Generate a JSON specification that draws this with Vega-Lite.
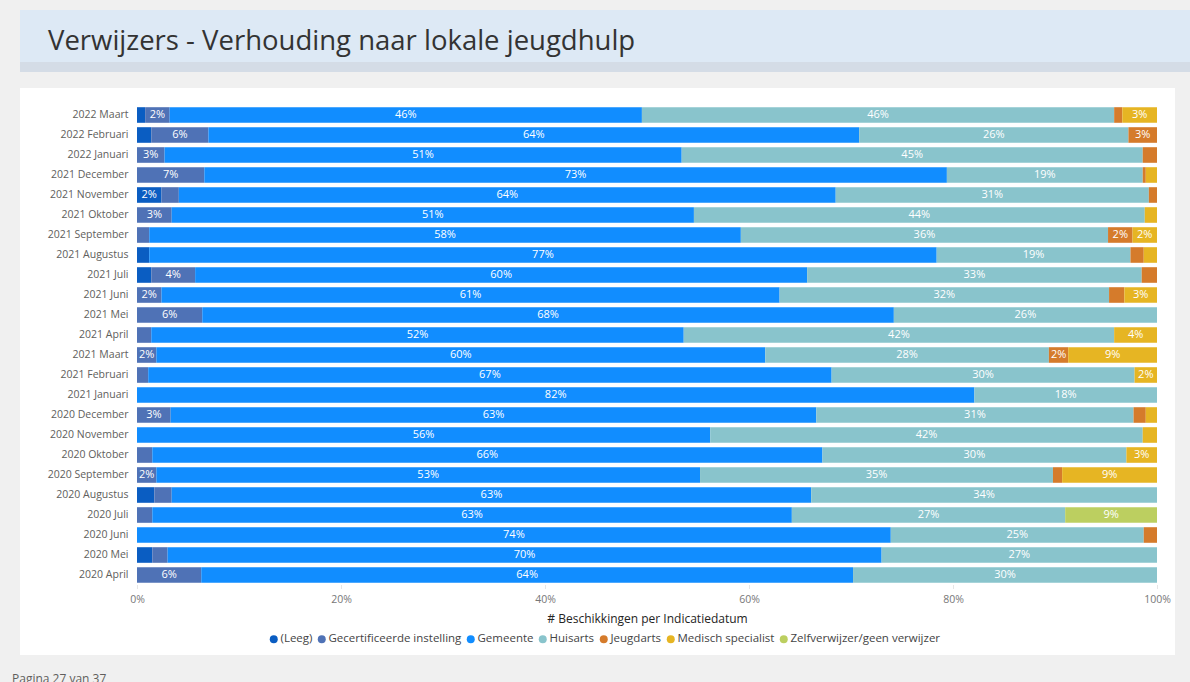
{
  "$schema": "https://vega.github.io/schema/vega-lite/v6.json",
  "padding": {"left": 12, "top": 10, "right": 0, "bottom": 0},
  "autosize": {"type": "pad"},
  "background": "#f0f0f0",
  "columns": 1,
  "spacing": 16,
  "config": {
    "font": "Segoe UI, Open Sans",
    "view": {"stroke": null}
  },
  "concat": [
    {
      "width": 1170,
      "height": 62,
      "view": {
        "stroke": null,
        "fill": {
          "gradient": "linear", "x1": 0, "y1": 0, "x2": 0, "y2": 1,
          "stops": [
            {"offset": 0, "color": "#dde9f5"},
            {"offset": 0.839, "color": "#dde9f5"},
            {"offset": 0.84, "color": "#d4dce6"},
            {"offset": 1, "color": "#d4dce6"}
          ]
        }
      },
      "data": {"values": [{}]},
      "mark": {"type": "text", "text": ""},
      "encoding": {},
      "title": {
        "text": "Verwijzers - Verhouding naar lokale jeugdhulp",
        "anchor": "start", "frame": "group", "orient": "top",
        "offset": -59, "dx": 28, "baseline": "middle",
        "fontSize": 27.5, "fontWeight": "normal", "color": "#333333", "font": "Segoe UI, Open Sans"
      }
    },
    {
      "width": 1155,
      "height": 567,
      "view": {"fill": "white", "stroke": null},
      "data": {
        "values": [
          {"maand": "2022 Maart", "verwijzer": "(Leeg)", "aandeel": 0.8},
          {"maand": "2022 Maart", "verwijzer": "Gecertificeerde instelling", "aandeel": 2.4},
          {"maand": "2022 Maart", "verwijzer": "Gemeente", "aandeel": 46.3},
          {"maand": "2022 Maart", "verwijzer": "Huisarts", "aandeel": 46.3},
          {"maand": "2022 Maart", "verwijzer": "Jeugdarts", "aandeel": 0.8},
          {"maand": "2022 Maart", "verwijzer": "Medisch specialist", "aandeel": 3.4},
          {"maand": "2022 Februari", "verwijzer": "(Leeg)", "aandeel": 1.4},
          {"maand": "2022 Februari", "verwijzer": "Gecertificeerde instelling", "aandeel": 5.6},
          {"maand": "2022 Februari", "verwijzer": "Gemeente", "aandeel": 63.8},
          {"maand": "2022 Februari", "verwijzer": "Huisarts", "aandeel": 26.4},
          {"maand": "2022 Februari", "verwijzer": "Jeugdarts", "aandeel": 2.8},
          {"maand": "2022 Januari", "verwijzer": "Gecertificeerde instelling", "aandeel": 2.7},
          {"maand": "2022 Januari", "verwijzer": "Gemeente", "aandeel": 50.7},
          {"maand": "2022 Januari", "verwijzer": "Huisarts", "aandeel": 45.2},
          {"maand": "2022 Januari", "verwijzer": "Jeugdarts", "aandeel": 1.4},
          {"maand": "2021 December", "verwijzer": "Gecertificeerde instelling", "aandeel": 6.6},
          {"maand": "2021 December", "verwijzer": "Gemeente", "aandeel": 72.8},
          {"maand": "2021 December", "verwijzer": "Huisarts", "aandeel": 19.2},
          {"maand": "2021 December", "verwijzer": "Jeugdarts", "aandeel": 0.3},
          {"maand": "2021 December", "verwijzer": "Medisch specialist", "aandeel": 1.1},
          {"maand": "2021 November", "verwijzer": "(Leeg)", "aandeel": 2.4},
          {"maand": "2021 November", "verwijzer": "Gecertificeerde instelling", "aandeel": 1.7},
          {"maand": "2021 November", "verwijzer": "Gemeente", "aandeel": 64.4},
          {"maand": "2021 November", "verwijzer": "Huisarts", "aandeel": 30.7},
          {"maand": "2021 November", "verwijzer": "Jeugdarts", "aandeel": 0.8},
          {"maand": "2021 Oktober", "verwijzer": "Gecertificeerde instelling", "aandeel": 3.4},
          {"maand": "2021 Oktober", "verwijzer": "Gemeente", "aandeel": 51.2},
          {"maand": "2021 Oktober", "verwijzer": "Huisarts", "aandeel": 44.2},
          {"maand": "2021 Oktober", "verwijzer": "Medisch specialist", "aandeel": 1.2},
          {"maand": "2021 September", "verwijzer": "Gecertificeerde instelling", "aandeel": 1.2},
          {"maand": "2021 September", "verwijzer": "Gemeente", "aandeel": 58.0},
          {"maand": "2021 September", "verwijzer": "Huisarts", "aandeel": 36.0},
          {"maand": "2021 September", "verwijzer": "Jeugdarts", "aandeel": 2.4},
          {"maand": "2021 September", "verwijzer": "Medisch specialist", "aandeel": 2.4},
          {"maand": "2021 Augustus", "verwijzer": "(Leeg)", "aandeel": 1.2},
          {"maand": "2021 Augustus", "verwijzer": "Gemeente", "aandeel": 77.2},
          {"maand": "2021 Augustus", "verwijzer": "Huisarts", "aandeel": 19.0},
          {"maand": "2021 Augustus", "verwijzer": "Jeugdarts", "aandeel": 1.3},
          {"maand": "2021 Augustus", "verwijzer": "Medisch specialist", "aandeel": 1.3},
          {"maand": "2021 Juli", "verwijzer": "(Leeg)", "aandeel": 1.4},
          {"maand": "2021 Juli", "verwijzer": "Gecertificeerde instelling", "aandeel": 4.3},
          {"maand": "2021 Juli", "verwijzer": "Gemeente", "aandeel": 60.0},
          {"maand": "2021 Juli", "verwijzer": "Huisarts", "aandeel": 32.8},
          {"maand": "2021 Juli", "verwijzer": "Jeugdarts", "aandeel": 1.5},
          {"maand": "2021 Juni", "verwijzer": "Gecertificeerde instelling", "aandeel": 2.4},
          {"maand": "2021 Juni", "verwijzer": "Gemeente", "aandeel": 60.6},
          {"maand": "2021 Juni", "verwijzer": "Huisarts", "aandeel": 32.3},
          {"maand": "2021 Juni", "verwijzer": "Jeugdarts", "aandeel": 1.5},
          {"maand": "2021 Juni", "verwijzer": "Medisch specialist", "aandeel": 3.2},
          {"maand": "2021 Mei", "verwijzer": "Gecertificeerde instelling", "aandeel": 6.4},
          {"maand": "2021 Mei", "verwijzer": "Gemeente", "aandeel": 67.8},
          {"maand": "2021 Mei", "verwijzer": "Huisarts", "aandeel": 25.8},
          {"maand": "2021 April", "verwijzer": "Gecertificeerde instelling", "aandeel": 1.4},
          {"maand": "2021 April", "verwijzer": "Gemeente", "aandeel": 52.2},
          {"maand": "2021 April", "verwijzer": "Huisarts", "aandeel": 42.2},
          {"maand": "2021 April", "verwijzer": "Medisch specialist", "aandeel": 4.2},
          {"maand": "2021 Maart", "verwijzer": "Gecertificeerde instelling", "aandeel": 1.9},
          {"maand": "2021 Maart", "verwijzer": "Gemeente", "aandeel": 59.7},
          {"maand": "2021 Maart", "verwijzer": "Huisarts", "aandeel": 27.8},
          {"maand": "2021 Maart", "verwijzer": "Jeugdarts", "aandeel": 1.9},
          {"maand": "2021 Maart", "verwijzer": "Medisch specialist", "aandeel": 8.7},
          {"maand": "2021 Februari", "verwijzer": "Gecertificeerde instelling", "aandeel": 1.1},
          {"maand": "2021 Februari", "verwijzer": "Gemeente", "aandeel": 67.0},
          {"maand": "2021 Februari", "verwijzer": "Huisarts", "aandeel": 29.7},
          {"maand": "2021 Februari", "verwijzer": "Medisch specialist", "aandeel": 2.2},
          {"maand": "2021 Januari", "verwijzer": "Gemeente", "aandeel": 82.1},
          {"maand": "2021 Januari", "verwijzer": "Huisarts", "aandeel": 17.9},
          {"maand": "2020 December", "verwijzer": "Gecertificeerde instelling", "aandeel": 3.3},
          {"maand": "2020 December", "verwijzer": "Gemeente", "aandeel": 63.3},
          {"maand": "2020 December", "verwijzer": "Huisarts", "aandeel": 31.1},
          {"maand": "2020 December", "verwijzer": "Jeugdarts", "aandeel": 1.2},
          {"maand": "2020 December", "verwijzer": "Medisch specialist", "aandeel": 1.1},
          {"maand": "2020 November", "verwijzer": "Gemeente", "aandeel": 56.2},
          {"maand": "2020 November", "verwijzer": "Huisarts", "aandeel": 42.4},
          {"maand": "2020 November", "verwijzer": "Medisch specialist", "aandeel": 1.4},
          {"maand": "2020 Oktober", "verwijzer": "Gecertificeerde instelling", "aandeel": 1.5},
          {"maand": "2020 Oktober", "verwijzer": "Gemeente", "aandeel": 65.7},
          {"maand": "2020 Oktober", "verwijzer": "Huisarts", "aandeel": 29.8},
          {"maand": "2020 Oktober", "verwijzer": "Medisch specialist", "aandeel": 3.0},
          {"maand": "2020 September", "verwijzer": "Gecertificeerde instelling", "aandeel": 1.9},
          {"maand": "2020 September", "verwijzer": "Gemeente", "aandeel": 53.3},
          {"maand": "2020 September", "verwijzer": "Huisarts", "aandeel": 34.6},
          {"maand": "2020 September", "verwijzer": "Jeugdarts", "aandeel": 0.9},
          {"maand": "2020 September", "verwijzer": "Medisch specialist", "aandeel": 9.3},
          {"maand": "2020 Augustus", "verwijzer": "(Leeg)", "aandeel": 1.7},
          {"maand": "2020 Augustus", "verwijzer": "Gecertificeerde instelling", "aandeel": 1.7},
          {"maand": "2020 Augustus", "verwijzer": "Gemeente", "aandeel": 62.7},
          {"maand": "2020 Augustus", "verwijzer": "Huisarts", "aandeel": 33.9},
          {"maand": "2020 Juli", "verwijzer": "Gecertificeerde instelling", "aandeel": 1.5},
          {"maand": "2020 Juli", "verwijzer": "Gemeente", "aandeel": 62.7},
          {"maand": "2020 Juli", "verwijzer": "Huisarts", "aandeel": 26.8},
          {"maand": "2020 Juli", "verwijzer": "Zelfverwijzer/geen verwijzer", "aandeel": 9.0},
          {"maand": "2020 Juni", "verwijzer": "Gemeente", "aandeel": 73.9},
          {"maand": "2020 Juni", "verwijzer": "Huisarts", "aandeel": 24.8},
          {"maand": "2020 Juni", "verwijzer": "Jeugdarts", "aandeel": 1.3},
          {"maand": "2020 Mei", "verwijzer": "(Leeg)", "aandeel": 1.5},
          {"maand": "2020 Mei", "verwijzer": "Gecertificeerde instelling", "aandeel": 1.5},
          {"maand": "2020 Mei", "verwijzer": "Gemeente", "aandeel": 70.0},
          {"maand": "2020 Mei", "verwijzer": "Huisarts", "aandeel": 27.0},
          {"maand": "2020 April", "verwijzer": "Gecertificeerde instelling", "aandeel": 6.3},
          {"maand": "2020 April", "verwijzer": "Gemeente", "aandeel": 63.9},
          {"maand": "2020 April", "verwijzer": "Huisarts", "aandeel": 29.8}
        ]
      },
      "transform": [
        {"stack": "aandeel", "groupby": ["maand"], "sort": [{"field": "verwijzer", "order": "ascending"}], "offset": "normalize", "as": ["x0", "x1"]},
        {"calculate": "(datum.x0 + datum.x1) / 2", "as": "xm"},
        {"calculate": "format(datum.aandeel / 100, '.0%')", "as": "label"}
      ],
      "encoding": {
        "y": {
          "field": "maand", "type": "nominal", "title": null,
          "sort": ["2022 Maart", "2022 Februari", "2022 Januari", "2021 December", "2021 November", "2021 Oktober", "2021 September", "2021 Augustus", "2021 Juli", "2021 Juni", "2021 Mei", "2021 April", "2021 Maart", "2021 Februari", "2021 Januari", "2020 December", "2020 November", "2020 Oktober", "2020 September", "2020 Augustus", "2020 Juli", "2020 Juni", "2020 Mei", "2020 April"],
          "scale": {"range": [17, 497], "paddingInner": 0.22, "paddingOuter": 0.11},
          "axis": {"domain": false, "ticks": false, "grid": false, "offset": -117, "labelPadding": 9, "labelFontSize": 10.5, "labelColor": "#605e5c"}
        }
      },
      "layer": [
        {
          "mark": {"type": "bar"},
          "encoding": {
            "x": {
              "field": "x0", "type": "quantitative", "title": "# Beschikkingen per Indicatiedatum",
              "scale": {"domain": [0, 1], "range": [117, 1137]},
              "axis": {"values": [0, 0.2, 0.4, 0.6, 0.8, 1], "format": ".0%", "offset": -70, "domain": false, "ticks": true, "tickSize": 4, "tickColor": "#cccccc", "tickDash": [1, 1], "grid": false, "labelFlush": false, "labelColor": "#777777", "labelFontSize": 10.5, "labelPadding": 5, "titleFontSize": 12, "titleColor": "#252423", "titleFontWeight": "normal", "titlePadding": 9}
            },
            "x2": {"field": "x1"},
            "color": {
              "field": "verwijzer", "type": "nominal",
              "scale": {
                "domain": ["(Leeg)", "Gecertificeerde instelling", "Gemeente", "Huisarts", "Jeugdarts", "Medisch specialist", "Zelfverwijzer/geen verwijzer"],
                "range": ["#0a5dc2", "#4f72b6", "#118dff", "#89c4cc", "#d57b2b", "#e6b523", "#bccf60"]
              },
              "legend": {"orient": "none", "legendX": 248, "legendY": 623, "direction": "horizontal", "title": null, "symbolType": "circle", "symbolSize": 64, "symbolStrokeWidth": 0, "labelFontSize": 11.5, "labelColor": "#444444", "columnPadding": 3, "labelOffset": 1}
            }
          }
        },
        {
          "transform": [{"filter": "datum.aandeel >= 1.8"}],
          "mark": {"type": "text", "color": "white", "fontSize": 11},
          "encoding": {
            "x": {"field": "xm", "type": "quantitative", "title": "# Beschikkingen per Indicatiedatum"},
            "text": {"field": "label"}
          }
        }
      ]
    },
    {
      "width": 1170,
      "height": 20,
      "data": {"values": [{}]},
      "mark": {"type": "text", "text": ""},
      "encoding": {},
      "title": {
        "text": "Pagina 27 van 37",
        "anchor": "start", "frame": "group", "orient": "top",
        "offset": -20, "dx": -8, "baseline": "middle",
        "fontSize": 12, "fontWeight": "normal", "color": "#605e5c", "font": "Segoe UI, Open Sans"
      }
    }
  ]
}
